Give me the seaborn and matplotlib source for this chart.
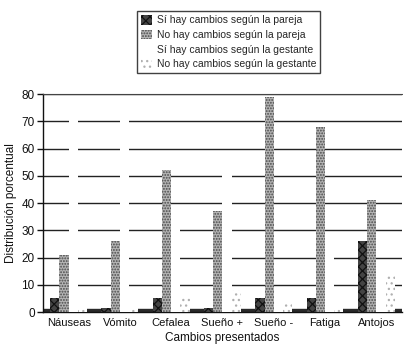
import numpy as np
import pandas as pd
import matplotlib
matplotlib.use("Agg")
import matplotlib.pyplot as plt
from matplotlib.patches import Patch
import seaborn as sns

# Cambios percibidos durante la gestación (distribución porcentual)
categorias = ["Náuseas", "Vómito", "Cefalea", "Sueño +", "Sueño -", "Fatiga", "Antojos"]
series = [
    "Sí hay cambios según la pareja",
    "No hay cambios según la pareja",
    "Sí hay cambios según la gestante",
    "No hay cambios según la gestante",
]
si_pareja = [5, 1.5, 5, 1.5, 5, 5, 26]
no_pareja = [21, 26, 52, 37, 79, 68, 41]
si_gestante = [72, 71, 34, 52, 8, 24, 17]
no_gestante = [2, 1.5, 5, 8, 3, 2, 14]

valores = [si_pareja, no_pareja, si_gestante, no_gestante]
df = pd.DataFrame({
    "Cambio": np.repeat([categorias], len(series), axis=0).ravel(),
    "Serie": np.repeat(series, len(categorias)),
    "Valor": np.concatenate(valores),
})

sns.set_theme(style="white")
plt.rcParams["font.family"] = ["Liberation Sans", "DejaVu Sans"]
plt.rcParams["hatch.linewidth"] = 0.9

# fill, hatch colour, hatch pattern for each series
estilos = [
    ("#444444", "#111111", "xxxx"),
    ("#b4b4b4", "#4a4a4a", "......"),
    ("#ffffff", "#ffffff", ""),
    ("#ffffff", "#b0b0b0", "..."),
]

fig = plt.figure(figsize=(4.06, 3.46), dpi=100)
ax = fig.add_axes([0.106, 0.098, 0.884, 0.63])

sns.barplot(data=df, x="Cambio", y="Valor", hue="Serie", order=categorias,
            hue_order=series, width=0.72, gap=0, legend=False, ax=ax,
            zorder=3)

n = len(categorias)
for i, cont in enumerate(ax.containers):
    fc, hc, h = estilos[i]
    for bar in cont:
        bar.set_facecolor(fc)
        bar.set_edgecolor(hc)
        bar.set_linewidth(0)
        bar.set_hatch(h)

# dark floor of the plot area
ax.axhspan(0, 1.3, color="#2a2a2a", zorder=2)

ax.set_ylim(0, 80)
ax.set_xlim(-0.5, n - 0.5)
ax.set_yticks(np.arange(0, 81, 10))
ax.yaxis.grid(True, color="#222222", linewidth=1.0, zorder=0)
ax.set_axisbelow(True)
ax.xaxis.grid(False)

ax.spines["right"].set_visible(False)
ax.spines["top"].set_color("#444444")
ax.spines["top"].set_linestyle((0, (2, 1)))
ax.spines["top"].set_linewidth(0.8)
for s in ["left", "bottom"]:
    ax.spines[s].set_color("#111111")
    ax.spines[s].set_linewidth(1.0)

ax.set_xticks(np.arange(n))
ax.set_xticks(np.arange(n + 1) - 0.5, minor=True)
ax.tick_params(axis="x", which="major", length=0, labelsize=8, pad=4, colors="#111111")
ax.tick_params(axis="x", which="minor", length=4, width=1, direction="out", color="#111111")
ax.tick_params(axis="y", which="major", length=4, width=1, direction="out",
               labelsize=8.5, pad=2, colors="#111111", left=True)

ax.set_xlabel("Cambios presentados", fontsize=8.5, labelpad=3, color="#111111")
ax.set_ylabel("Distribución porcentual", fontsize=8.5, labelpad=3, color="#111111")

handles = [Patch(facecolor=fc, edgecolor=hc, hatch=h, linewidth=0)
           for fc, hc, h in estilos]
leg = fig.legend(handles, series, loc="upper center", bbox_to_anchor=(0.563, 0.968),
                 fontsize=7.5, frameon=True, fancybox=False, borderpad=0.4,
                 handlelength=1.1, handleheight=1.0, handletextpad=0.4,
                 labelspacing=0.42, borderaxespad=0)
leg.get_frame().set_edgecolor("#111111")
leg.get_frame().set_linewidth(1.0)

fig.savefig("out.png", dpi=100)
